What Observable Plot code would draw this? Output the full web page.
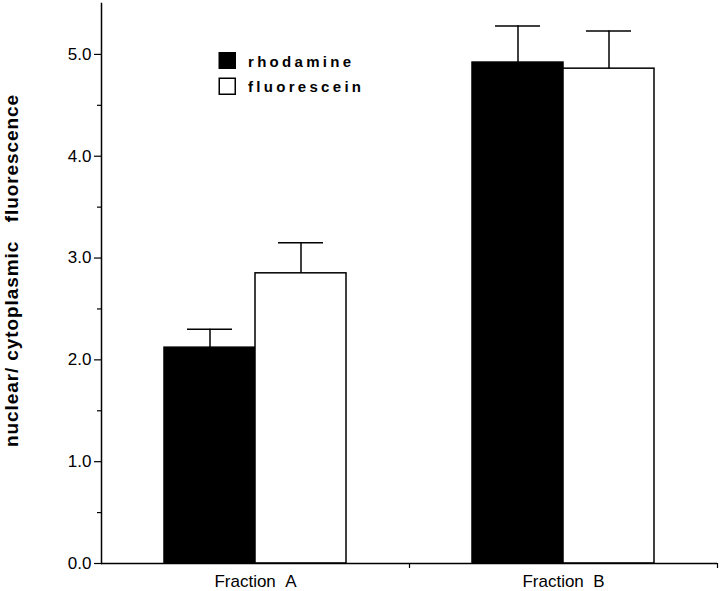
<!DOCTYPE html>
<html>
<head>
<meta charset="utf-8">
<script src="https://cdn.jsdelivr.net/npm/d3@7"></script>
<script src="https://cdn.jsdelivr.net/npm/@observablehq/plot@0.6"></script>
<style>
  body { margin: 0; background: #fff; }
  #chart { width: 720px; height: 591px; }
</style>
</head>
<body>
<div id="chart"></div>
<script>
// ---- data ----
const fractions = ["Fraction A", "Fraction B"];
const dyes = ["rhodamine", "fluorescein"];
const rhodamineMeans = [2.12, 4.92];
const rhodamineErrors = [0.18, 0.36];
const fluoresceinMeans = [2.85, 4.86];
const fluoresceinErrors = [0.30, 0.37];
const yMajorTicks = [0, 1, 2, 3, 4, 5];
const yMinorTicks = [0.5, 1.5, 2.5, 3.5, 4.5];
const yLabel = "nuclear/ cytoplasmic   fluorescence";

const data = [];
fractions.forEach((f, i) => {
  data.push({fraction: f, dye: dyes[0], value: rhodamineMeans[i], err: rhodamineErrors[i]});
  data.push({fraction: f, dye: dyes[1], value: fluoresceinMeans[i], err: fluoresceinErrors[i]});
});

const W = 720, H = 591, ML = 101, MR = 3, MT = 3, MB = 28;
const halfBand = (W - ML - MR) / fractions.length / 2;

const chart = Plot.plot({
  width: W,
  height: H,
  marginLeft: ML,
  marginRight: MR,
  marginTop: MT,
  marginBottom: MB,
  style: {fontFamily: "'Liberation Sans', Arial, sans-serif", fontSize: "17px", background: "#fff", color: "#000"},
  fx: {domain: fractions, padding: 0, label: null},
  x: {domain: dyes, paddingInner: 0, paddingOuter: 0.674, axis: null},
  y: {domain: [0, 5.5], label: null},
  color: {domain: dyes, range: ["#000", "#fff"]},
  marks: [
    Plot.barY(data, {fx: "fraction", x: "dye", y: "value", fill: "dye", stroke: "#000", strokeWidth: 1.5}),
    Plot.ruleX(data, {fx: "fraction", x: "dye", y1: "value", y2: d => d.value + d.err, stroke: "#000", strokeWidth: 1.5}),
    Plot.tickY(data, {fx: "fraction", x: "dye", y: d => d.value + d.err, insetLeft: 23, insetRight: 23, stroke: "#000", strokeWidth: 1.5}),
    Plot.ruleY([0], {stroke: "#000", strokeWidth: 1.5}),
    Plot.frame({anchor: "left", facetAnchor: "left", stroke: "#000", strokeWidth: 1.5}),
    Plot.axisY(yMajorTicks, {tickSize: 7, tickPadding: 3, tickFormat: d3.format(".1f"), label: null, strokeWidth: 1.2}),
    Plot.axisY(yMinorTicks, {tickSize: 4, fill: "none", label: null, strokeWidth: 1.2}),
    Plot.axisFx({anchor: "bottom", tickSize: 0, tickPadding: 11, label: null, tickFormat: d => d.replace(" ", "\u00a0\u00a0")}),
    Plot.axisFx({anchor: "bottom", tickSize: 5, fill: "none", label: null, dx: halfBand, strokeWidth: 1.2})
  ]
});

document.getElementById("chart").appendChild(chart);

// y-axis title and legend drawn into the same SVG
const svg = d3.select(chart);
svg.append("text")
  .attr("transform", "translate(18,447) rotate(-90)")
  .attr("text-anchor", "start")
  .attr("font-family", "'Liberation Sans', Arial, sans-serif")
  .attr("font-weight", "bold")
  .attr("font-size", 19)
  .attr("textLength", 352)
  .attr("lengthAdjust", "spacing")
  .attr("fill", "#000")
  .attr("xml:space", "preserve")
  .style("white-space", "pre")
  .text(yLabel);

const legend = svg.append("g")
  .attr("font-family", "'Liberation Sans', Arial, sans-serif")
  .attr("font-weight", "bold").attr("font-size", 15)
  .attr("text-anchor", "start");
dyes.forEach((d, i) => {
  const y0 = 52 + i * 25.5;
  legend.append("rect")
    .attr("x", i === 0 ? 218.5 : 219.25).attr("y", i === 0 ? y0 : y0 + 0.75)
    .attr("width", i === 0 ? 17.5 : 16).attr("height", i === 0 ? 17 : 16)
    .attr("fill", i === 0 ? "#000" : "#fff").attr("stroke", "#000").attr("stroke-width", i === 0 ? 0 : 1.5);
  legend.append("text")
    .attr("x", 248).attr("y", y0 + 14.5)
    .attr("text-anchor", "start")
    .attr("letter-spacing", "3.3px")
    .attr("fill", "#000")
    .text(d);
});
</script>
</body>
</html>
